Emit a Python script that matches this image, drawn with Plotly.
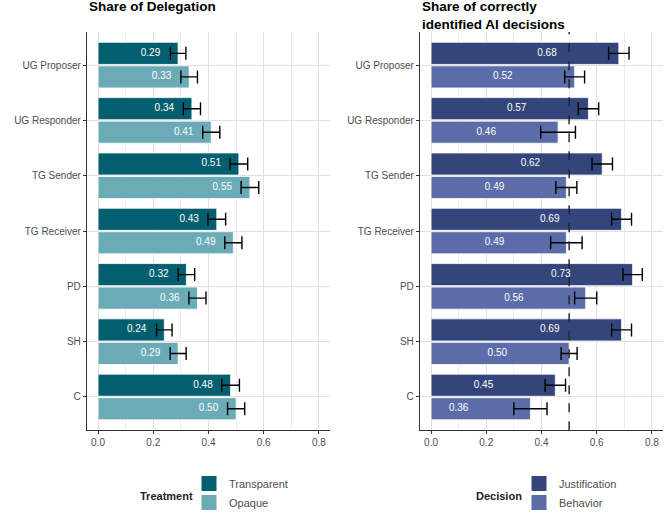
import plotly.graph_objects as go

categories = ["UG Proposer", "UG Responder", "TG Sender", "TG Receiver", "PD", "SH", "C"]

# Left panel: share of delegation
transparent = [0.29, 0.34, 0.51, 0.43, 0.32, 0.24, 0.48]
transparent_err = [0.028, 0.031, 0.032, 0.032, 0.030, 0.028, 0.032]
opaque = [0.33, 0.41, 0.55, 0.49, 0.36, 0.29, 0.50]
opaque_err = [0.030, 0.031, 0.032, 0.031, 0.031, 0.029, 0.031]

# Right panel: share of correctly identified AI decisions
justification = [0.68, 0.57, 0.62, 0.69, 0.73, 0.69, 0.45]
justification_err = [0.037, 0.037, 0.037, 0.036, 0.035, 0.036, 0.037]
behavior = [0.52, 0.46, 0.49, 0.49, 0.56, 0.50, 0.36]
behavior_err = [0.036, 0.063, 0.038, 0.057, 0.040, 0.029, 0.060]

x_ticks = [0.0, 0.2, 0.4, 0.6, 0.8]
chance_level = 0.5

C_TRANS = "#035F6F"
C_OPAQ = "#6BABB7"
C_JUST = "#33457A"
C_BEHA = "#5B6CA8"

FONT = "Liberation Sans, Arial, sans-serif"
idx = list(range(len(categories)))
OFF = 0.2125
BW = 0.4
top_pos = [i - OFF for i in idx]
bot_pos = [i + OFF for i in idx]

fig = go.Figure()


def add_bars(vals, errs, pos, color, xa, ya, label_shift):
    fig.add_trace(go.Bar(
        x=vals, y=pos, orientation="h", width=BW,
        marker=dict(color=color, line=dict(color="white", width=0.8)),
        error_x=dict(type="data", array=errs, visible=True, color="black",
                     thickness=1.4, width=6.5),
        xaxis=xa, yaxis=ya, showlegend=False, hoverinfo="x+y",
    ))
    fig.add_trace(go.Scatter(
        x=[v - label_shift for v in vals], y=pos, mode="text",
        text=[f"{v:.2f}" for v in vals],
        textfont=dict(color="white", size=10, family=FONT),
        xaxis=xa, yaxis=ya, showlegend=False, hoverinfo="skip",
    ))


add_bars(transparent, transparent_err, top_pos, C_TRANS, "x", "y", 0.1)
add_bars(opaque, opaque_err, bot_pos, C_OPAQ, "x", "y", 0.1)
add_bars(justification, justification_err, top_pos, C_JUST, "x2", "y2", 0.26)
add_bars(behavior, behavior_err, bot_pos, C_BEHA, "x2", "y2", 0.26)

# legend entries
for name, color, lg, xa, ya in [
    ("Transparent", C_TRANS, "legend", "x", "y"),
    ("Opaque", C_OPAQ, "legend", "x", "y"),
    ("Justification", C_JUST, "legend2", "x2", "y2"),
    ("Behavior", C_BEHA, "legend2", "x2", "y2"),
]:
    fig.add_trace(go.Scatter(
        x=[None], y=[None], mode="markers", name=name,
        marker=dict(symbol="square", size=16, color=color,
                    line=dict(color="white", width=1)),
        xaxis=xa, yaxis=ya, legend=lg, showlegend=True,
    ))

W, H = 664, 517
ydom = [1 - 431 / H, 1 - 32 / H]
xdom1 = [87 / W, 330 / W]
xdom2 = [420 / W, 663 / W]

xcommon = dict(
    range=[-0.04, 0.84], tickvals=x_ticks, ticktext=[f"{t:.1f}" for t in x_ticks],
    showline=True, linecolor="#333333", linewidth=1.3,
    ticks="outside", ticklen=3, tickcolor="#333333", tickwidth=1,
    showgrid=True, gridcolor="#E0E0E0", gridwidth=1,
    minor=dict(dtick=0.1, tick0=0, showgrid=True, gridcolor="#ECECEC", gridwidth=0.8),
    zeroline=False, fixedrange=True,
    tickfont=dict(size=10, color="#4D4D4D", family=FONT),
)
ycommon = dict(
    range=[6.6, -0.6], tickvals=idx, ticktext=categories,
    showline=True, linecolor="#333333", linewidth=1.3,
    ticks="outside", ticklen=3, tickcolor="#333333", tickwidth=1,
    showgrid=True, gridcolor="#E0E0E0", gridwidth=1,
    zeroline=False, fixedrange=True, domain=ydom,
    tickfont=dict(size=10, color="#4D4D4D", family=FONT),
)

legend_common = dict(
    yanchor="top", xanchor="left", y=1 - 470 / H,
    font=dict(size=11, color="#4D4D4D", family=FONT), bgcolor="rgba(0,0,0,0)",
    itemsizing="trace", tracegroupgap=0, borderwidth=0,
)

fig.update_layout(
    width=W, height=H,
    margin=dict(l=0, r=0, t=0, b=0),
    paper_bgcolor="white", plot_bgcolor="white",
    font=dict(family=FONT, color="#222222"),
    xaxis=dict(domain=xdom1, anchor="y", **xcommon),
    yaxis=dict(anchor="x", **ycommon),
    xaxis2=dict(domain=xdom2, anchor="y2", **xcommon),
    yaxis2=dict(anchor="x2", **ycommon),
    legend=dict(x=189 / W, **legend_common),
    legend2=dict(x=519 / W, **legend_common),
    showlegend=True,
)

fig.add_shape(type="line", xref="x2", yref="y2 domain", x0=chance_level, x1=chance_level,
              y0=0, y1=1, line=dict(color="#222222", width=1.4, dash="dash"))

fig.add_annotation(text="<b>Share of Delegation</b>", xref="paper", yref="paper",
                   x=87 / W, y=1, xanchor="left", yanchor="top", yshift=3, showarrow=False,
                   font=dict(size=13.5, color="black", family=FONT), align="left")
fig.add_annotation(text="<b>Share of correctly<br>identified AI decisions</b>", xref="paper",
                   yref="paper", x=420 / W, y=1, xanchor="left", yanchor="top", yshift=3,
                   showarrow=False, font=dict(size=13.5, color="black", family=FONT),
                   align="left")

# legend titles
for txt, xpos in [("Treatment", 138), ("Decision", 474)]:
    fig.add_annotation(text=f"<b>{txt}</b>", xref="paper", yref="paper",
                       x=xpos / W, y=1 - 497 / H, xanchor="left", yanchor="middle",
                       showarrow=False, font=dict(size=11, color="#222222", family=FONT))

fig.write_html("out.html", config={"displayModeBar": False},
               post_script="document.body.style.margin='0px';")
